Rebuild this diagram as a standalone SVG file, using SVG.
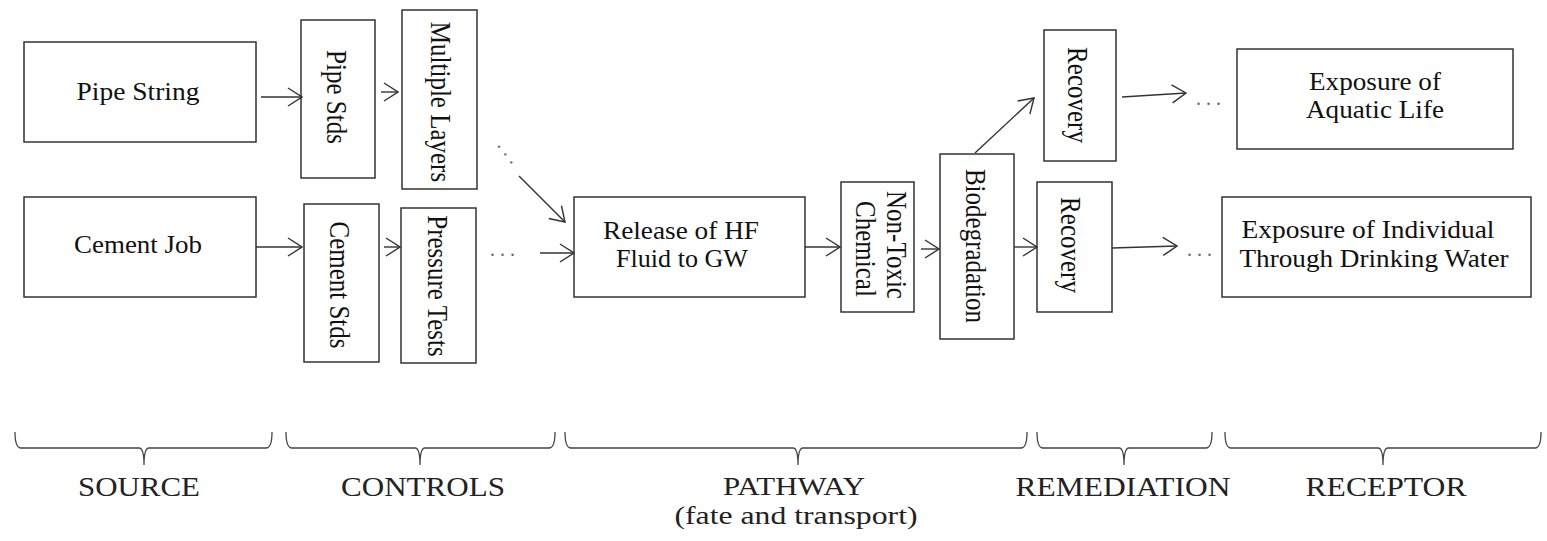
<svg xmlns="http://www.w3.org/2000/svg" width="1547" height="541" viewBox="0 0 1547 541">
<style>
.box{fill:#fff;stroke:#333;stroke-width:1.5}
.t{font-family:"Liberation Serif","Times New Roman",serif;font-size:25px;fill:#111;text-anchor:middle}
.r{font-family:"Liberation Serif","Times New Roman",serif;font-size:25px;fill:#111;text-anchor:middle;dominant-baseline:central}
.lab{font-family:"Liberation Serif","Times New Roman",serif;font-size:27px;fill:#222;text-anchor:middle}
.lab2{font-family:"Liberation Serif","Times New Roman",serif;font-size:25px;fill:#222;text-anchor:middle}
.dots{font-family:"Liberation Serif","Times New Roman",serif;font-size:20px;fill:#666;text-anchor:middle;letter-spacing:5px}
.c{fill:none;stroke:#333;stroke-width:1.4}
.br{fill:none;stroke:#444;stroke-width:1.3}
</style>
<defs>
<marker id="ah" markerUnits="userSpaceOnUse" viewBox="0 0 16 20" refX="15" refY="10" markerWidth="16" markerHeight="20" orient="auto">
<path d="M1,1 L15,10 L1,19" fill="none" stroke="#333" stroke-width="1.4"/>
</marker>
</defs>
<rect width="1547" height="541" fill="#fff"/>

<g id="pipe_string"><rect class="box" x="24" y="42" width="232" height="100"/><text class="t" x="138" y="100" textLength="123" lengthAdjust="spacingAndGlyphs">Pipe String</text></g>
<g id="cement_job"><rect class="box" x="24" y="197" width="232" height="100"/><text class="t" x="138" y="253" textLength="128" lengthAdjust="spacingAndGlyphs">Cement Job</text></g>
<g id="pipe_stds"><rect class="box" x="301" y="20" width="74" height="158"/><text class="r" transform="translate(337 97) scale(1.15 1) rotate(90)">Pipe Stds</text></g>
<g id="multiple_layers"><rect class="box" x="402" y="10" width="75" height="179"/><text class="r" transform="translate(441 102) scale(1.15 1) rotate(90)">Multiple Layers</text></g>
<g id="cement_stds"><rect class="box" x="304" y="204" width="75" height="158"/><text class="r" transform="translate(340 285) scale(1.15 1) rotate(90)">Cement Stds</text></g>
<g id="pressure_tests"><rect class="box" x="401" y="208" width="75" height="155"/><text class="r" transform="translate(438 286) scale(1.15 1) rotate(90)">Pressure Tests</text></g>
<g id="release"><rect class="box" x="574" y="197" width="231" height="100"/><text class="t" x="681" y="239" textLength="156" lengthAdjust="spacingAndGlyphs">Release of HF</text><text class="t" x="682" y="267" textLength="132" lengthAdjust="spacingAndGlyphs">Fluid to GW</text></g>
<g id="non_toxic"><rect class="box" x="841" y="182" width="73" height="130"/><text class="r" transform="translate(897 245) scale(1.15 1) rotate(90)">Non-Toxic</text><text class="r" transform="translate(866 249) scale(1.15 1) rotate(90)">Chemical</text></g>
<g id="biodegradation"><rect class="box" x="940" y="154" width="74" height="185"/><text class="r" transform="translate(976 246) scale(1.15 1) rotate(90)">Biodegradation</text></g>
<g id="recovery_top"><rect class="box" x="1044" y="30" width="72" height="131"/><text class="r" transform="translate(1078 95) scale(1.15 1) rotate(90)">Recovery</text></g>
<g id="recovery_bottom"><rect class="box" x="1037" y="182" width="75" height="130"/><text class="r" transform="translate(1071 245) scale(1.15 1) rotate(90)">Recovery</text></g>
<g id="exposure_aquatic"><rect class="box" x="1237" y="49" width="276" height="100"/><text class="t" x="1375" y="90" textLength="132" lengthAdjust="spacingAndGlyphs">Exposure of</text><text class="t" x="1375" y="118" textLength="138" lengthAdjust="spacingAndGlyphs">Aquatic Life</text></g>
<g id="exposure_individual"><rect class="box" x="1222" y="197" width="309" height="100"/><text class="t" x="1368" y="238" textLength="253" lengthAdjust="spacingAndGlyphs">Exposure of Individual</text><text class="t" x="1374" y="267" textLength="269" lengthAdjust="spacingAndGlyphs">Through Drinking Water</text></g>

<g id="connectors">
<line class="c" x1="261" y1="97" x2="302" y2="97" marker-end="url(#ah)"/>
<line class="c" x1="381" y1="92" x2="398" y2="92" marker-end="url(#ah)"/>
<line class="c" x1="256" y1="247" x2="302" y2="247" marker-end="url(#ah)"/>
<line class="c" x1="384" y1="247" x2="400" y2="247" marker-end="url(#ah)"/>
<text class="dots" transform="translate(506 157) rotate(52)">...</text>
<line class="c" x1="519" y1="176" x2="565" y2="222" marker-end="url(#ah)"/>
<text class="dots" x="505" y="256">...</text>
<line class="c" x1="540" y1="253" x2="574" y2="253" marker-end="url(#ah)"/>
<line class="c" x1="805" y1="247" x2="840" y2="247" marker-end="url(#ah)"/>
<line class="c" x1="921" y1="249" x2="939" y2="249" marker-end="url(#ah)"/>
<line class="c" x1="975" y1="153" x2="1034" y2="98" marker-end="url(#ah)"/>
<line class="c" x1="1014" y1="247" x2="1037" y2="247" marker-end="url(#ah)"/>
<line class="c" x1="1122" y1="97" x2="1186" y2="93" marker-end="url(#ah)"/>
<text class="dots" x="1211" y="105">...</text>
<line class="c" x1="1112" y1="248" x2="1177" y2="246" marker-end="url(#ah)"/>
<text class="dots" x="1202" y="256">...</text>
</g>

<g id="braces">
<path class="br" d="M15,432 Q15,448 21,448 L139,448 Q144,448 144,465 Q144,448 149,448 L266,448 Q272,448 272,432"/>
<path class="br" d="M286,432 Q286,448 292,448 L415,448 Q420,448 420,465 Q420,448 425,448 L549,448 Q555,448 555,432"/>
<path class="br" d="M565,432 Q565,448 571,448 L793,448 Q798,448 798,465 Q798,448 803,448 L1021,448 Q1027,448 1027,432"/>
<path class="br" d="M1037,432 Q1037,448 1043,448 L1119,448 Q1124,448 1124,465 Q1124,448 1129,448 L1206,448 Q1212,448 1212,432"/>
<path class="br" d="M1225,432 Q1225,448 1231,448 L1378,448 Q1383,448 1383,465 Q1383,448 1388,448 L1535,448 Q1541,448 1541,432"/>
</g>
<g id="labels">
<text class="lab" x="139" y="496" textLength="122" lengthAdjust="spacingAndGlyphs">SOURCE</text>
<text class="lab" x="423" y="496" textLength="164" lengthAdjust="spacingAndGlyphs">CONTROLS</text>
<text class="lab2" x="794" y="495" textLength="142" lengthAdjust="spacingAndGlyphs">PATHWAY</text>
<text class="lab2" x="796" y="524" textLength="243" lengthAdjust="spacingAndGlyphs">(fate and transport)</text>
<text class="lab" x="1123" y="496" textLength="215" lengthAdjust="spacingAndGlyphs">REMEDIATION</text>
<text class="lab" x="1386" y="496" textLength="161" lengthAdjust="spacingAndGlyphs">RECEPTOR</text>
</g>
</svg>
